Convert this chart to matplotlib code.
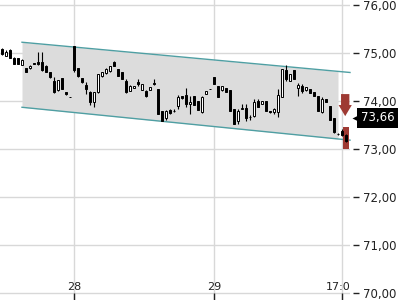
import numpy as np
import matplotlib
matplotlib.use("Agg")
import matplotlib.pyplot as plt
import matplotlib.transforms as mtransforms

# OHLC bars (index = bar number)
opens  = [75.08, 74.94, 75.06, 74.90, 74.90, 74.75, 74.69, 74.70, 74.79, 74.81,
          74.81, 74.73, 74.60, 74.42, 74.23, 74.48, 74.19, 74.09, 75.15, 74.69,
          74.48, 74.33, 74.19, 73.98, 74.19, 74.52, 74.58, 74.63, 74.81, 74.67,
          74.60, 74.42, 74.21, 74.27, 74.40, 74.23, 74.21, 74.23, 74.38, 74.25,
          73.79, 73.65, 73.81, 73.79, 73.90, 74.10, 74.13, 73.94, 74.10, 74.00,
          73.77, 74.15, 74.25, 74.50, 74.31, 74.23, 74.27, 74.23, 73.83, 73.58,
          73.83, 73.85, 73.67, 73.69, 74.00, 73.94, 74.00, 73.79, 73.77, 73.77,
          74.08, 74.65, 74.42, 74.65, 74.27, 74.31, 74.23, 74.25, 74.19, 74.10,
          73.77, 74.04, 73.90, 73.65, 73.31, 73.38, 73.29]
highs  = [75.12, 75.06, 75.08, 74.92, 74.90, 74.88, 74.69, 74.76, 74.80, 75.02,
          75.02, 74.76, 74.62, 74.50, 74.45, 74.48, 74.19, 74.09, 75.15, 74.69,
          74.48, 74.40, 74.21, 74.19, 74.56, 74.60, 74.69, 74.73, 74.83, 74.67,
          74.60, 74.46, 74.33, 74.31, 74.46, 74.35, 74.23, 74.29, 74.46, 74.25,
          73.79, 73.81, 73.83, 73.83, 74.13, 74.12, 74.27, 74.10, 74.12, 74.00,
          74.10, 74.21, 74.25, 74.50, 74.31, 74.31, 74.27, 74.23, 73.83, 73.83,
          73.94, 73.94, 73.71, 74.04, 74.04, 74.00, 74.00, 73.79, 73.85, 74.25,
          74.67, 74.75, 74.56, 74.65, 74.38, 74.35, 74.29, 74.25, 74.19, 74.12,
          74.08, 74.04, 73.90, 73.65, 73.33, 73.42, 73.31]
lows   = [74.96, 74.94, 74.90, 74.77, 74.77, 74.75, 74.60, 74.68, 74.77, 74.76,
          74.64, 74.60, 74.49, 74.17, 74.22, 74.25, 74.14, 74.08, 74.62, 74.50,
          74.38, 74.15, 73.92, 73.88, 74.17, 74.50, 74.56, 74.62, 74.73, 74.52,
          74.46, 74.17, 74.21, 74.27, 74.31, 74.23, 74.08, 74.23, 74.33, 73.73,
          73.58, 73.60, 73.73, 73.77, 73.83, 74.04, 73.88, 73.73, 73.92, 73.81,
          73.75, 74.15, 74.25, 74.35, 74.08, 74.21, 74.19, 73.79, 73.52, 73.52,
          73.83, 73.58, 73.62, 73.67, 73.88, 73.94, 73.79, 73.75, 73.73, 73.67,
          74.08, 74.42, 74.42, 74.46, 74.10, 74.17, 74.21, 74.17, 74.10, 73.79,
          73.75, 73.98, 73.62, 73.33, 73.29, 73.27, 73.15]
closes = [74.98, 75.02, 74.90, 74.77, 74.77, 74.87, 74.62, 74.74, 74.77, 74.77,
          74.65, 74.60, 74.50, 74.19, 74.44, 74.25, 74.15, 74.08, 74.65, 74.52,
          74.40, 74.25, 73.98, 74.19, 74.56, 74.60, 74.67, 74.73, 74.73, 74.52,
          74.46, 74.19, 74.31, 74.31, 74.35, 74.35, 74.10, 74.29, 74.35, 73.73,
          73.58, 73.79, 73.75, 73.79, 74.08, 74.06, 73.94, 73.98, 73.92, 73.81,
          74.08, 74.21, 74.25, 74.35, 74.08, 74.31, 74.19, 73.79, 73.52, 73.79,
          73.87, 73.65, 73.67, 73.98, 73.88, 74.00, 73.79, 73.77, 73.83, 74.13,
          74.67, 74.46, 74.56, 74.46, 74.33, 74.21, 74.29, 74.17, 74.10, 73.79,
          74.04, 73.98, 73.62, 73.35, 73.31, 73.29, 73.17]

# trend channel (start/end bar, upper and lower prices)
chan_x     = [5, 87]
chan_upper = [75.23, 74.60]
chan_lower = [73.875, 73.19]
fill_end   = 84

last_price = 73.66
xtick_pos = [18, 53, 85]
xtick_lab = ['28', '29', '17:00']
yticks = [70, 71, 72, 73, 74, 75, 76]

red = '#9e3a33'
teal = '#4f9fa3'

fig = plt.figure(figsize=(4, 3), dpi=100)
ax = fig.add_axes([0, 0, 350/400, 1])
ax.set_xlim(-0.5, 87)
ax.set_ylim(69.86, 76.11)

for s in ax.spines.values():
    s.set_visible(False)

# grid
for yv in yticks:
    ax.axhline(yv, color='#d8d8d8', lw=1, zorder=0)
for xv in xtick_pos:
    ax.axvline(xv, color='#d8d8d8', lw=1, zorder=0)

# channel
xs = np.array(chan_x, dtype=float)
up = np.array(chan_upper)
lo = np.array(chan_lower)
xf = np.array([chan_x[0], fill_end], dtype=float)
ax.fill_between(xf, np.interp(xf, xs, up), np.interp(xf, xs, lo),
                color='#dcdcdc', lw=0, zorder=1)
ax.plot(xs, up, color=teal, lw=1, zorder=2, clip_on=False)
ax.plot(xs, lo, color=teal, lw=1, zorder=2, clip_on=False)

# highlight on last bar
n = len(opens)
ax.bar(n - 1, 0.46, bottom=73.0, width=1.6, color=red, zorder=3, clip_on=False)

# candles
idx = np.arange(n)
o = np.array(opens); c = np.array(closes)
ax.vlines(idx, lows, highs, color='black', lw=0.8, zorder=4, clip_on=False)
bot = np.minimum(o, c)
hgt = np.maximum(np.abs(c - o), 0.012)
face = ['white' if cc > oo else 'black' for oo, cc in zip(o, c)]
ax.bar(idx, hgt, bottom=bot, width=0.7, color=face, edgecolor='black',
       linewidth=0.7, zorder=5, clip_on=False)

# down arrow
ax.annotate('', xy=(85.8, 73.69), xytext=(85.8, 74.15),
            arrowprops=dict(arrowstyle='simple,tail_width=0.6,head_width=0.95,head_length=0.8',
                            fc=red, ec='none', shrinkA=0, shrinkB=0, mutation_scale=10),
            annotation_clip=False, zorder=6)

# y axis on right
ax.yaxis.tick_right()
ax.set_yticks(yticks)
ax.set_yticklabels([('%.2f' % v).replace('.', ',') for v in yticks])
ax.spines['right'].set_position(('outward', 2))
ax.tick_params(axis='y', length=4, width=1, pad=3, labelsize=8.5, colors='#222222')

# x ticks inside, labels drawn inside the plot
ax.set_xticks(xtick_pos)
ax.set_xticklabels([])
ax.tick_params(axis='x', direction='in', length=5, width=1, colors='#222222')
bt = mtransforms.blended_transform_factory(ax.transData, ax.transAxes)
for xp, lab in zip(xtick_pos, xtick_lab):
    ax.text(xp, 0.043, lab, transform=bt, ha='center', va='center',
            fontsize=8, color='#222222', clip_on=True)

# last price tag
tr = mtransforms.blended_transform_factory(ax.transAxes, ax.transData)
ax.plot(1.022, last_price, marker='<', ms=8, color='black', mec='none',
        transform=tr, clip_on=False, zorder=7)
ax.text(1.03, last_price, ('%.2f' % last_price).replace('.', ','), transform=tr,
        ha='left', va='center', fontsize=8.5, color='white', clip_on=False,
        bbox=dict(boxstyle='square,pad=0.3', fc='black', ec='none'), zorder=7)

fig.savefig('out.png', dpi=100)
